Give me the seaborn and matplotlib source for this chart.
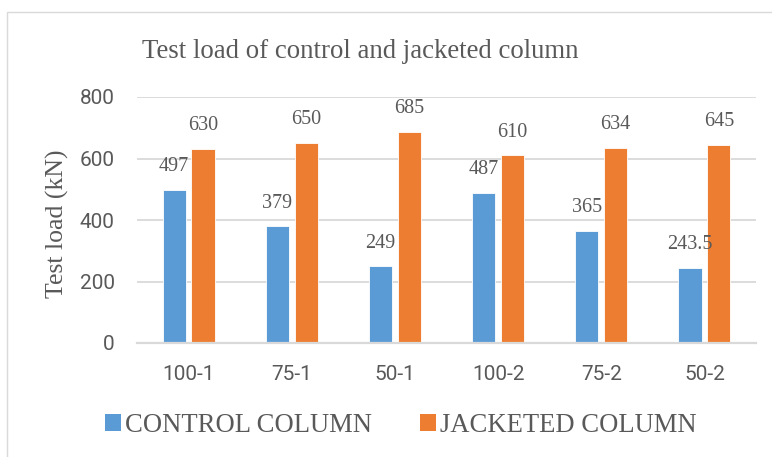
import matplotlib
matplotlib.use("Agg")
import matplotlib.pyplot as plt
from matplotlib.patches import Rectangle, Patch
import pandas as pd
import seaborn as sns

# datos del grafico
specimens = ["100-1", "75-1", "50-1", "100-2", "75-2", "50-2"]
control_load = [497, 379, 249, 487, 365, 243.5]
jacketed_load = [630, 650, 685, 610, 634, 645]
series_names = ["CONTROL COLUMN", "JACKETED COLUMN"]
colors = ["#5B9BD5", "#ED7D31"]
y_ticks = [0, 200, 400, 600, 800]

df = pd.DataFrame({
    "specimen": specimens * 2,
    "load": control_load + jacketed_load,
    "series": [series_names[0]] * len(specimens) + [series_names[1]] * len(specimens),
})

sns.set_theme(style="white")
text_color = "#595959"
serif = ["Liberation Serif", "DejaVu Serif"]

W, H = 772, 457
fig = plt.figure(figsize=(W / 100, H / 100), dpi=100)
ax = fig.add_axes([137 / W, 1 - 343 / H, (756 - 137) / W, (343 - 97) / H])

sns.barplot(data=df, x="specimen", y="load", hue="series", order=specimens,
            hue_order=series_names, palette=colors, width=0.56, gap=0.2,
            saturation=1, edgecolor="white", linewidth=0.6, legend=False, ax=ax)

# etiquetas de datos
for cont, vals in zip(ax.containers, [control_load, jacketed_load]):
    ax.bar_label(cont, labels=[f"{v:g}" for v in vals], padding=10,
                 fontsize=14.5, color=text_color, family=serif)

ax.set_ylim(0, 800)
ax.set_yticks(y_ticks)
ax.yaxis.grid(True, color="#D9D9D9", linewidth=1.3)
ax.set_axisbelow(True)
for s in ["left", "right", "top"]:
    ax.spines[s].set_visible(False)
ax.spines["bottom"].set_color("#D9D9D9")
ax.spines["bottom"].set_linewidth(1.6)
ax.set_xlabel("")
ax.set_ylabel("")
ax.tick_params(axis="both", length=0, labelsize=15, labelcolor=text_color)
ax.tick_params(axis="y", pad=16)
ax.tick_params(axis="x", pad=16)
for lab in ax.get_xticklabels() + ax.get_yticklabels():
    lab.set_family(["Roboto", "DejaVu Sans"])

fig.text(57 / W, 1 - 224 / H, "Test load (kN)", rotation=90, ha="center",
         va="center", fontsize=18.5, color=text_color, family=serif)
fig.text(360 / W, 1 - 51 / H, "Test load of control and jacketed column",
         ha="center", va="center", fontsize=19.3, color=text_color, family=serif)

handles = [Patch(facecolor=c, edgecolor="none") for c in colors]
fig.legend(handles, series_names, loc="center", bbox_to_anchor=(401 / W, 1 - 425 / H),
           ncol=2, frameon=False, handlelength=0.6, handleheight=0.6,
           handletextpad=0.15, columnspacing=1.8, labelcolor=text_color,
           prop={"family": serif, "size": 19.2})

# marco del area del grafico
fig.add_artist(Rectangle((7 / W, -0.5), 2, 1.5 - 12 / H, transform=fig.transFigure,
                         fill=False, edgecolor="#D9D9D9", linewidth=1))

fig.savefig("out.png", dpi=100)
